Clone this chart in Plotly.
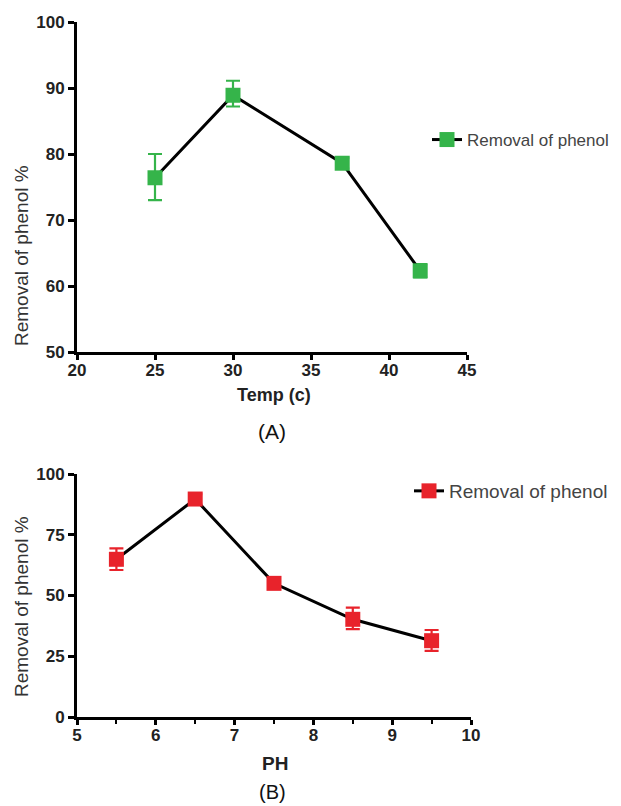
import plotly.graph_objects as go

# Panel A data
temp = [25, 30, 37, 42]
removal_a = [76.4, 88.9, 78.6, 62.3]
err_a_plus = [3.6, 2.2, 0.8, 1.0]
err_a_minus = [3.4, 1.7, 0.8, 1.0]

# Panel B data
ph = [5.5, 6.5, 7.5, 8.5, 9.5]
removal_b = [64.9, 89.7, 55.0, 40.2, 31.4]
err_b_plus = [4.5, 2.0, 2.0, 4.8, 4.4]
err_b_minus = [4.4, 2.0, 2.0, 4.0, 4.2]

GREEN = "#35b44a"
RED = "#e8232b"
FONT = "Arial, Liberation Sans, sans-serif"
W, H = 621, 806

fig = go.Figure()
fig.add_trace(go.Scatter(
    x=temp, y=removal_a, mode="lines+markers", name="Removal of phenol",
    line=dict(color="black", width=3),
    marker=dict(symbol="square", size=15, color=GREEN, line=dict(width=0)),
    error_y=dict(type="data", symmetric=False, array=err_a_plus, arrayminus=err_a_minus,
                 color=GREEN, thickness=2.2, width=7),
    xaxis="x", yaxis="y", legend="legend",
))
fig.add_trace(go.Scatter(
    x=ph, y=removal_b, mode="lines+markers", name="Removal of phenol",
    line=dict(color="black", width=3),
    marker=dict(symbol="square", size=15, color=RED, line=dict(width=0)),
    error_y=dict(type="data", symmetric=False, array=err_b_plus, arrayminus=err_b_minus,
                 color=RED, thickness=2.2, width=7),
    xaxis="x2", yaxis="y2", legend="legend2",
))

tickfont = dict(family=FONT, size=17, color="#222", weight="bold")
axis_common = dict(showline=True, linewidth=3, linecolor="black", showgrid=False,
                   zeroline=False, ticks="outside", tickwidth=2.5,
                   tickcolor="black", tickfont=tickfont, fixedrange=True,
                   automargin=False)

fig.update_layout(
    width=W, height=H, margin=dict(l=0, r=0, t=0, b=0, autoexpand=False),
    paper_bgcolor="white", plot_bgcolor="white",
    xaxis=dict(domain=[77 / W, 467 / W], range=[20, 45], tickvals=[20, 25, 30, 35, 40, 45],
               anchor="y", ticklen=5, ticklabelstandoff=-4, **axis_common),
    yaxis=dict(domain=[1 - 352 / H, 1 - 22 / H], range=[50, 100], ticklen=6,
               tickvals=[50, 60, 70, 80, 90, 100], anchor="x", **axis_common),
    xaxis2=dict(domain=[77 / W, 471 / W], range=[5, 10], tickvals=[5, 6, 7, 8, 9, 10],
                anchor="y2", ticklen=5, ticklabelstandoff=-4,
                minor=dict(dtick=0.5, tick0=5, ticks="outside", ticklen=4, tickwidth=2,
                           tickcolor="black"),
                **axis_common),
    yaxis2=dict(domain=[1 - 717 / H, 1 - 474 / H], range=[0, 100], ticklen=6,
                tickvals=[0, 25, 50, 75, 100], anchor="x2", **axis_common),
    legend=dict(x=427 / W, y=1 - 140 / H, xanchor="left", yanchor="middle",
                font=dict(family=FONT, size=17, color="#444"), bgcolor="rgba(0,0,0,0)",
                itemwidth=30),
    legend2=dict(x=409 / W, y=1 - 491 / H, xanchor="left", yanchor="middle",
                 font=dict(family=FONT, size=19, color="#444"), bgcolor="rgba(0,0,0,0)",
                 itemwidth=30),
    showlegend=True,
)

ann = [
    dict(text="Removal of phenol %", x=21 / W, y=1 - 256 / H, textangle=-90,
         font=dict(family=FONT, size=19, color="#333")),
    dict(text="Removal of phenol %", x=21 / W, y=1 - 607 / H, textangle=-90,
         font=dict(family=FONT, size=19, color="#333")),
    dict(text="Temp (c)", x=274 / W, y=1 - 395 / H,
         font=dict(family=FONT, size=18, color="#222", weight="bold")),
    dict(text="(A)", x=272 / W, y=1 - 432 / H,
         font=dict(family=FONT, size=21, color="#111")),
    dict(text="PH", x=275 / W, y=1 - 763 / H,
         font=dict(family=FONT, size=19, color="#222", weight="bold")),
    dict(text="(B)", x=272 / W, y=1 - 792 / H,
         font=dict(family=FONT, size=20, color="#111")),
]
for a in ann:
    fig.add_annotation(xref="paper", yref="paper", showarrow=False,
                       xanchor="center", yanchor="middle", **a)

fig.write_html("out.html")
